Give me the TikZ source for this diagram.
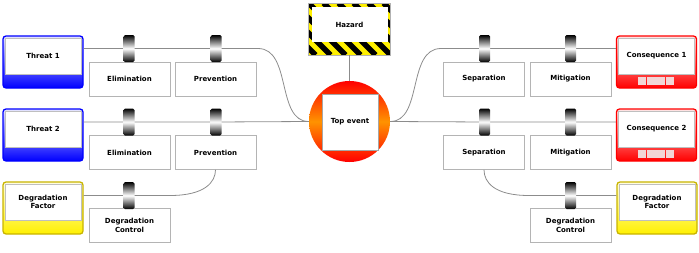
\documentclass[tikz,border=0pt]{standalone}
\usepackage{fontspec}
\setmainfont{DejaVu Sans}
\definecolor{lnc}{HTML}{8C8C8C}
\definecolor{boxc}{HTML}{B4B4B4}
\definecolor{ylw}{HTML}{FFF000}
\definecolor{ylwd}{HTML}{C8B400}
\definecolor{pink}{HTML}{F2D6D6}
\begin{document}
\begin{tikzpicture}[x=1pt,y=-1pt,
  txt/.style={font=\fontsize{7}{8.5}\selectfont\bfseries, align=center},
  ctrlbox/.style={txt, draw=boxc, fill=white, minimum width=81pt, minimum height=34pt, inner sep=1pt, line width=0.6pt},
  barrier/.style={minimum width=11pt, minimum height=27pt, inner sep=0pt, rounded corners=1.5pt, top color=black, bottom color=black, middle color=white},
  frame/.style={minimum width=80pt, minimum height=52pt, rounded corners=3pt, line width=1.3pt, inner sep=0pt},
  innerbox/.style={txt, fill=white, draw=gray!50, line width=0.4pt, minimum width=76pt, minimum height=36pt, inner sep=0pt},
  conn/.style={draw=lnc, line width=0.8pt}]
\useasboundingbox (0,0) rectangle (699,252);

% ---------- Hazard ----------
\fill[ylw] (308.5,3) rectangle (390.5,55);
\begin{scope}
  \clip (308.5,3) rectangle (390.5,55);
  \foreach \i in {-5,...,7} \draw[line width=5.6pt] (308.5+\i*15,3) -- ++(52,52);
\end{scope}
\draw[gray!60, line width=0.5pt] (308.5,3) rectangle (390.5,55);
\node[txt, fill=white, minimum width=76pt, minimum height=35pt, inner sep=0pt] (hz) at (349.5,24.5) {Hazard};
\coordinate (hzb) at (349.5,55);

% ---------- Top event ----------
\node[circle, minimum size=81pt, inner sep=0pt, top color=red, bottom color=red, middle color=orange!85!yellow] (te) at (349.5,121.5) {};
\node[txt, fill=white, draw=gray!70, line width=0.4pt, minimum size=56pt, inner sep=0pt] (top) at (350,122) {Top event};

% ---------- frames (threats, consequences, degradation factors) ----------
\node[frame, draw=blue, top color=blue!10, bottom color=blue] (t1f) at (43,62) {};
\node[innerbox] (t1) at (43,56) {Threat 1};
\node[frame, draw=blue, top color=blue!10, bottom color=blue] (t2f) at (43,135) {};
\node[innerbox] (t2) at (43,129) {Threat 2};
\node[frame, draw=ylwd, top color=ylw!10, bottom color=ylw] (d1f) at (43,208) {};
\node[innerbox] (d1) at (43,202) {Degradation\\Factor};

\node[frame, draw=red, top color=red!10, bottom color=red] (c1f) at (656.5,62) {};
\node[innerbox] (c1) at (656.5,56) {Consequence 1};
\node[frame, draw=red, top color=red!10, bottom color=red] (c2f) at (656.5,135) {};
\node[innerbox] (c2) at (656.5,129) {Consequence 2};
\node[frame, draw=ylwd, top color=ylw!10, bottom color=ylw] (d2f) at (657,208) {};
\node[innerbox] (d2) at (657,202) {Degradation\\Factor};

\foreach \yy in {77,150} {
  \foreach \k in {0,1,2,3} \fill[pink] (637.5+\k*9.4,\yy) rectangle ++(8.6,8);
}

% ---------- control boxes ----------
\node[ctrlbox] (e1) at (129.5,79) {Elimination};
\node[ctrlbox] (p1) at (215.5,79) {Prevention};
\node[ctrlbox] (e2) at (129.5,152.5) {Elimination};
\node[ctrlbox] (p2) at (215.5,152.5) {Prevention};
\node[ctrlbox] (dc1) at (129.5,225.5) {Degradation\\Control};
\node[ctrlbox] (s1) at (484,79) {Separation};
\node[ctrlbox] (m1) at (570.5,79) {Mitigation};
\node[ctrlbox] (s2) at (484,152.5) {Separation};
\node[ctrlbox] (m2) at (570.5,152.5) {Mitigation};
\node[ctrlbox] (dc2) at (570.5,225.5) {Degradation\\Control};

% ---------- barrier positions ----------
\coordinate (b11) at (129,48.5);
\coordinate (b12) at (216,48.5);
\coordinate (b21) at (129,122);
\coordinate (b22) at (216,122);
\coordinate (bd1) at (129,195.5);
\coordinate (r11) at (484.5,48.5);
\coordinate (r12) at (570.5,48.5);
\coordinate (r21) at (484.5,122);
\coordinate (r22) at (570.5,122);
\coordinate (rd2) at (570.5,195.5);
\coordinate (lk1) at (258,48.5);
\coordinate (rk1) at (441,48.5);
\coordinate (lk3) at (170,195.5);
\coordinate (rk3) at (529,195.5);

% ---------- connectors ----------
\draw[conn] (hzb) -- (te.north);
\draw[conn] (t1f.east |- b11) -- (b11) -- (b12) -- (lk1) .. controls (292,48.5) and (276,121.5) .. (te.west);
\draw[conn] (t2f.east |- b21) -- (b21) -- (b22) -- (te.west);
\draw[conn] (d1f.east |- bd1) -- (bd1) -- (lk3) .. controls (205,195.5) and (215.5,182) .. (p2.south);
\draw[conn] (te.east) .. controls (423,121.5) and (407,48.5) .. (rk1) -- (r11) -- (r12) -- (c1f.west |- r12);
\draw[conn] (te.east) -- (r21) -- (r22) -- (c2f.west |- r22);
\draw[conn] (s2.south) .. controls (484,182) and (494,195.5) .. (rk3) -- (rd2) -- (d2f.west |- rd2);

% ---------- barriers ----------
\foreach \b in {b11,b12,b21,b22,bd1,r11,r12,r21,r22,rd2}
  \node[barrier] at (\b) {};
\end{tikzpicture}
\end{document}
